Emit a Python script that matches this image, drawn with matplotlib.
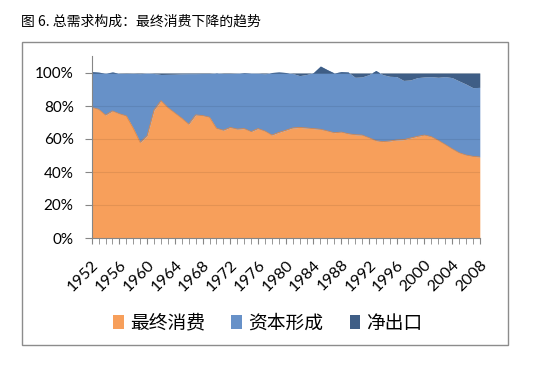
import matplotlib
matplotlib.use("Agg")
import matplotlib.pyplot as plt
from matplotlib.patches import Patch, Rectangle
import numpy as np

years = list(range(1952, 2009))
consumption = [79.2, 78.0, 74.5, 77.0, 75.3, 74.0, 66.5, 57.9, 62.0, 77.6,
               83.2, 79.0, 75.8, 72.6, 69.0, 74.6, 74.2, 73.2, 66.5, 65.3,
               67.0, 66.0, 66.3, 64.5, 66.3, 64.8, 62.4, 64.0, 65.3, 66.7,
               67.0, 66.7, 66.3, 65.9, 64.9, 63.8, 64.2, 63.2, 62.6, 62.4,
               60.8, 59.0, 58.4, 58.8, 59.4, 59.6, 60.6, 61.6, 62.4, 61.4,
               59.2, 56.7, 54.1, 51.7, 50.3, 49.5, 49.1]
net_exports = [-0.8, -0.5, 0.1, -0.6, 0.2, 0.3, 0.2, 0.4, 0.0, 0.3,
               0.9, 0.8, 0.7, 0.5, 0.4, 0.4, 0.3, 0.3, -0.1, 0.3,
               0.3, 0.1, -0.2, 0.0, 0.1, 0.5, -0.3, -0.6, -0.3, 0.3,
               1.6, 0.9, -0.3, -4.2, -2.0, 0.0, -0.8, -0.6, 2.6, 2.4,
               1.0, -1.5, 1.0, 2.0, 2.2, 4.5, 4.2, 2.8, 2.4, 2.2,
               2.6, 2.2, 2.8, 4.8, 6.7, 8.9, 8.7]
capital = [100 - c - n for c, n in zip(consumption, net_exports)]

series_names = ["最终消费", "资本形成", "净出口"]
colors = ["#F79F5B", "#6791C8", "#3F5E86"]
title = "图 6. 总需求构成：最终消费下降的趋势"
tick_years = list(range(1952, 2009, 4))

plt.rcParams['font.family'] = ['Lato', 'Noto Sans CJK SC', 'DejaVu Sans']

fig = plt.figure(figsize=(5.34, 3.67), dpi=100)
W, H = 534, 367

def fx(px):
    return px / W

def fy(py):
    return 1 - py / H

ax = fig.add_axes([fx(91.7), fy(238), fx(479.8) - fx(91.7), fy(56.5) - fy(238)])

x = np.array(years)
c = np.array(consumption) / 100
k = np.array(capital) / 100
n = np.array(net_exports) / 100

ax.fill_between(x, 0, c, color=colors[0], lw=0, zorder=2)
ax.fill_between(x, c, c + k, color=colors[1], lw=0, zorder=2)
ax.fill_between(x, c + k, c + k + n, color=colors[2], lw=0, zorder=2)
ax.plot(x, c, color="#D9874A", lw=0.6, zorder=3)

for g in [0.2, 0.4, 0.6, 0.8, 1.0]:
    ax.axhline(g, color="k", alpha=0.08, lw=0.8, zorder=4)

ax.set_xlim(1952, 2008)
ax.set_ylim(0, 1.1)
ax.set_yticks([0, 0.2, 0.4, 0.6, 0.8, 1.0])
ax.set_yticklabels(["0%", "20%", "40%", "60%", "80%", "100%"])
ax.set_xticks(years, minor=True)
ax.set_xticks(tick_years)
ax.set_xticklabels([str(y) for y in tick_years], rotation=45, ha="right",
                   va="top", rotation_mode="anchor")
ax.tick_params(axis="y", labelsize=11, length=5, color="#868686",
               pad=8, labelcolor="#000000")
ax.tick_params(axis="x", which="both", length=4, color="#868686",
               labelsize=11.5, pad=10)
for s in ["top", "right"]:
    ax.spines[s].set_visible(False)
for s in ["left", "bottom"]:
    ax.spines[s].set_color("#868686")
    ax.spines[s].set_linewidth(0.8)
    ax.spines[s].set_zorder(5)

fig.patches.append(Rectangle((fx(22), fy(345)), fx(508) - fx(22), fy(42) - fy(345),
                             transform=fig.transFigure, fill=False,
                             edgecolor="#8C8C8C", lw=1.0))

fig.text(fx(21), fy(22), title, fontsize=10, va="center", ha="left",
         family=['Noto Sans CJK SC', 'DejaVu Sans'])

handles = [Patch(facecolor=col, edgecolor="none") for col in colors]
fig.legend(handles, series_names, loc="center", bbox_to_anchor=(fx(268), fy(323)),
           ncol=3, frameon=False, handlelength=0.55, handleheight=0.8,
           handletextpad=0.35, columnspacing=1.4,
           prop={'family': ['Noto Sans CJK SC', 'DejaVu Sans'], 'size': 13.5})

fig.savefig("out.png", dpi=100)
